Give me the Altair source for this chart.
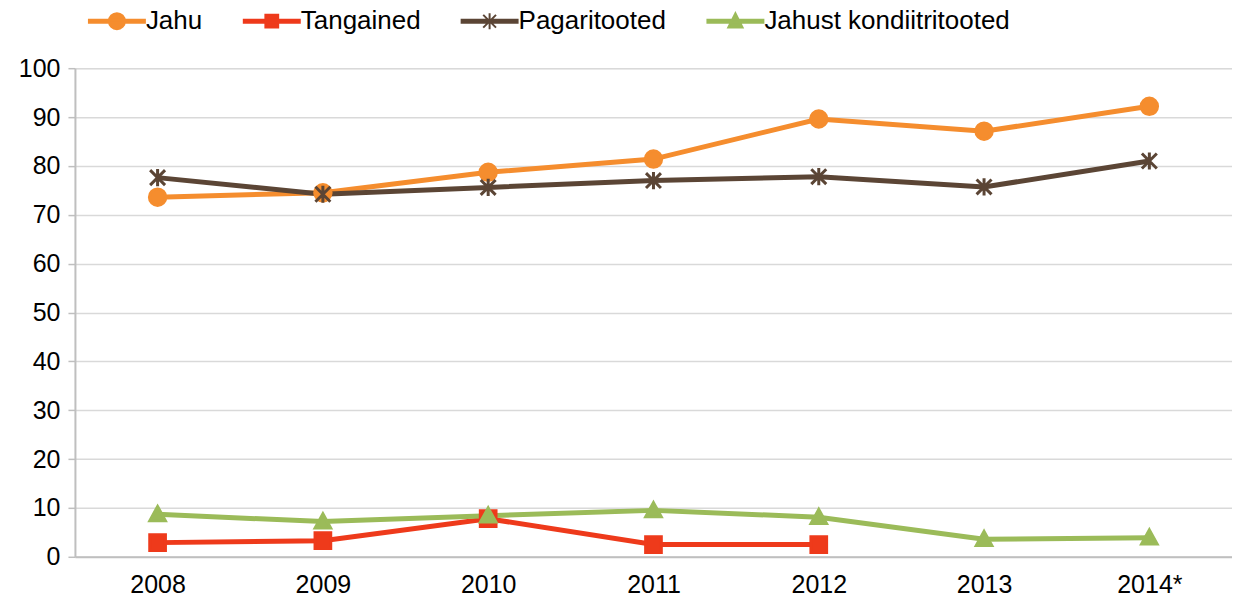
import altair as alt
import pandas as pd

years = ["2008", "2009", "2010", "2011", "2012", "2013", "2014*"]
series_names = ["Jahu", "Tangained", "Pagaritooted", "Jahust kondiitritooted"]
jahu = [73.6, 74.5, 78.7, 81.4, 89.6, 87.1, 92.2]
tangained = [2.9, 3.3, 7.8, 2.5, 2.5]
pagaritooted = [77.6, 74.2, 75.6, 77.0, 77.8, 75.7, 81.0]
jahust = [8.7, 7.2, 8.4, 9.5, 8.1, 3.6, 3.9]
y_ticks = [0, 10, 20, 30, 40, 50, 60, 70, 80, 90, 100]

colors = ["#F58D2E", "#EE3A1B", "#5B4535", "#9BBB59"]

rows = []
for name, vals in zip(series_names, [jahu, tangained, pagaritooted, jahust]):
    for yr, v in zip(years, vals):
        rows.append({"year": yr, "value": v, "series": name})
df = pd.DataFrame(rows)

FONT = "Liberation Sans"

x_enc = alt.X("year:N", sort=years, title=None,
              scale=alt.Scale(type="point", padding=0.5),
              axis=alt.Axis(labelAngle=0, ticks=False, grid=False, labelFontSize=25,
                            labelFont=FONT, labelColor="#000000", labelPadding=16,
                            domainColor="#BFBFBF", domainWidth=2))
y_enc = alt.Y("value:Q", title=None,
              scale=alt.Scale(domain=[0, 100], nice=False),
              axis=alt.Axis(values=y_ticks, labelFontSize=25, labelFont=FONT,
                            labelColor="#000000", labelPadding=8, tickSize=7,
                            tickColor="#BFBFBF", tickWidth=1.5,
                            domainColor="#BFBFBF", domainWidth=2,
                            gridColor="#D9D9D9", gridWidth=1.5))

color_scale = alt.Scale(domain=series_names, range=colors)

lines = alt.Chart(df).mark_line(strokeWidth=5).encode(
    x=x_enc, y=y_enc,
    color=alt.Color("series:N", scale=color_scale, legend=None),
    detail="series:N",
)

marker_shapes = [
    "circle",
    "square",
    "M-1,-1L1,1M-1,1L1,-1M0,-1.15L0,1.15",
    "M0,-1.1L1.1,0.9H-1.1Z",
]
points = alt.Chart(df).mark_point(filled=True, opacity=1, strokeWidth=3).encode(
    x=x_enc, y=y_enc,
    color=alt.Color("series:N", scale=color_scale, legend=None),
    stroke=alt.Stroke("series:N", scale=color_scale, legend=None),
    shape=alt.Shape("series:N", scale=alt.Scale(domain=series_names, range=marker_shapes), legend=None),
    size=alt.Size("series:N", scale=alt.Scale(domain=series_names, range=[270, 200, 220, 330]), legend=None),
)

main = alt.layer(lines, points)

legend_shapes = [
    "M-3.5,-0.2H3.5V0.2H-3.5Z M1,0A1,1,0,1,1,-1,0A1,1,0,1,1,1,0Z",
    "M-3.5,-0.2H3.5V0.2H-3.5Z M-0.8,-0.8H0.8V0.8H-0.8Z",
    "M-3.5,-0.2H3.5V0.2H-3.5Z M-0.8,-0.8L0.8,0.8M-0.8,0.8L0.8,-0.8M0,-1L0,1",
    "M-3.5,-0.2H3.5V0.2H-3.5Z M0,-1L0.9,0.8H-0.9Z",
]
leg = alt.Legend(title=None, orient="none", direction="horizontal", legendX=29, legendY=-60,
                 labelFontSize=26, labelFont=FONT, labelColor="#000000", labelLimit=400,
                 symbolSize=256, symbolStrokeWidth=2, labelOffset=16,
                 columnPadding=37, padding=0, symbolOpacity=1)
legend_layer = alt.Chart(df).transform_filter("false").mark_point(filled=True, opacity=1).encode(
    color=alt.Color("series:N", scale=alt.Scale(domain=series_names, range=colors), legend=leg),
    stroke=alt.Stroke("series:N", scale=alt.Scale(domain=series_names, range=colors), legend=leg),
    shape=alt.Shape("series:N", scale=alt.Scale(domain=series_names, range=legend_shapes), legend=leg),
)

chart = alt.layer(main, legend_layer).resolve_scale(
    color="independent", shape="independent", stroke="independent"
).properties(
    width=1158, height=489,
    autosize=alt.AutoSizeParams(type="none"),
    padding={"left": 67, "top": 60, "right": 0, "bottom": 43},
).configure_view(stroke=None).configure(background="#FFFFFF")

chart.save("out.html", embed_options={"renderer": "svg", "actions": False})
